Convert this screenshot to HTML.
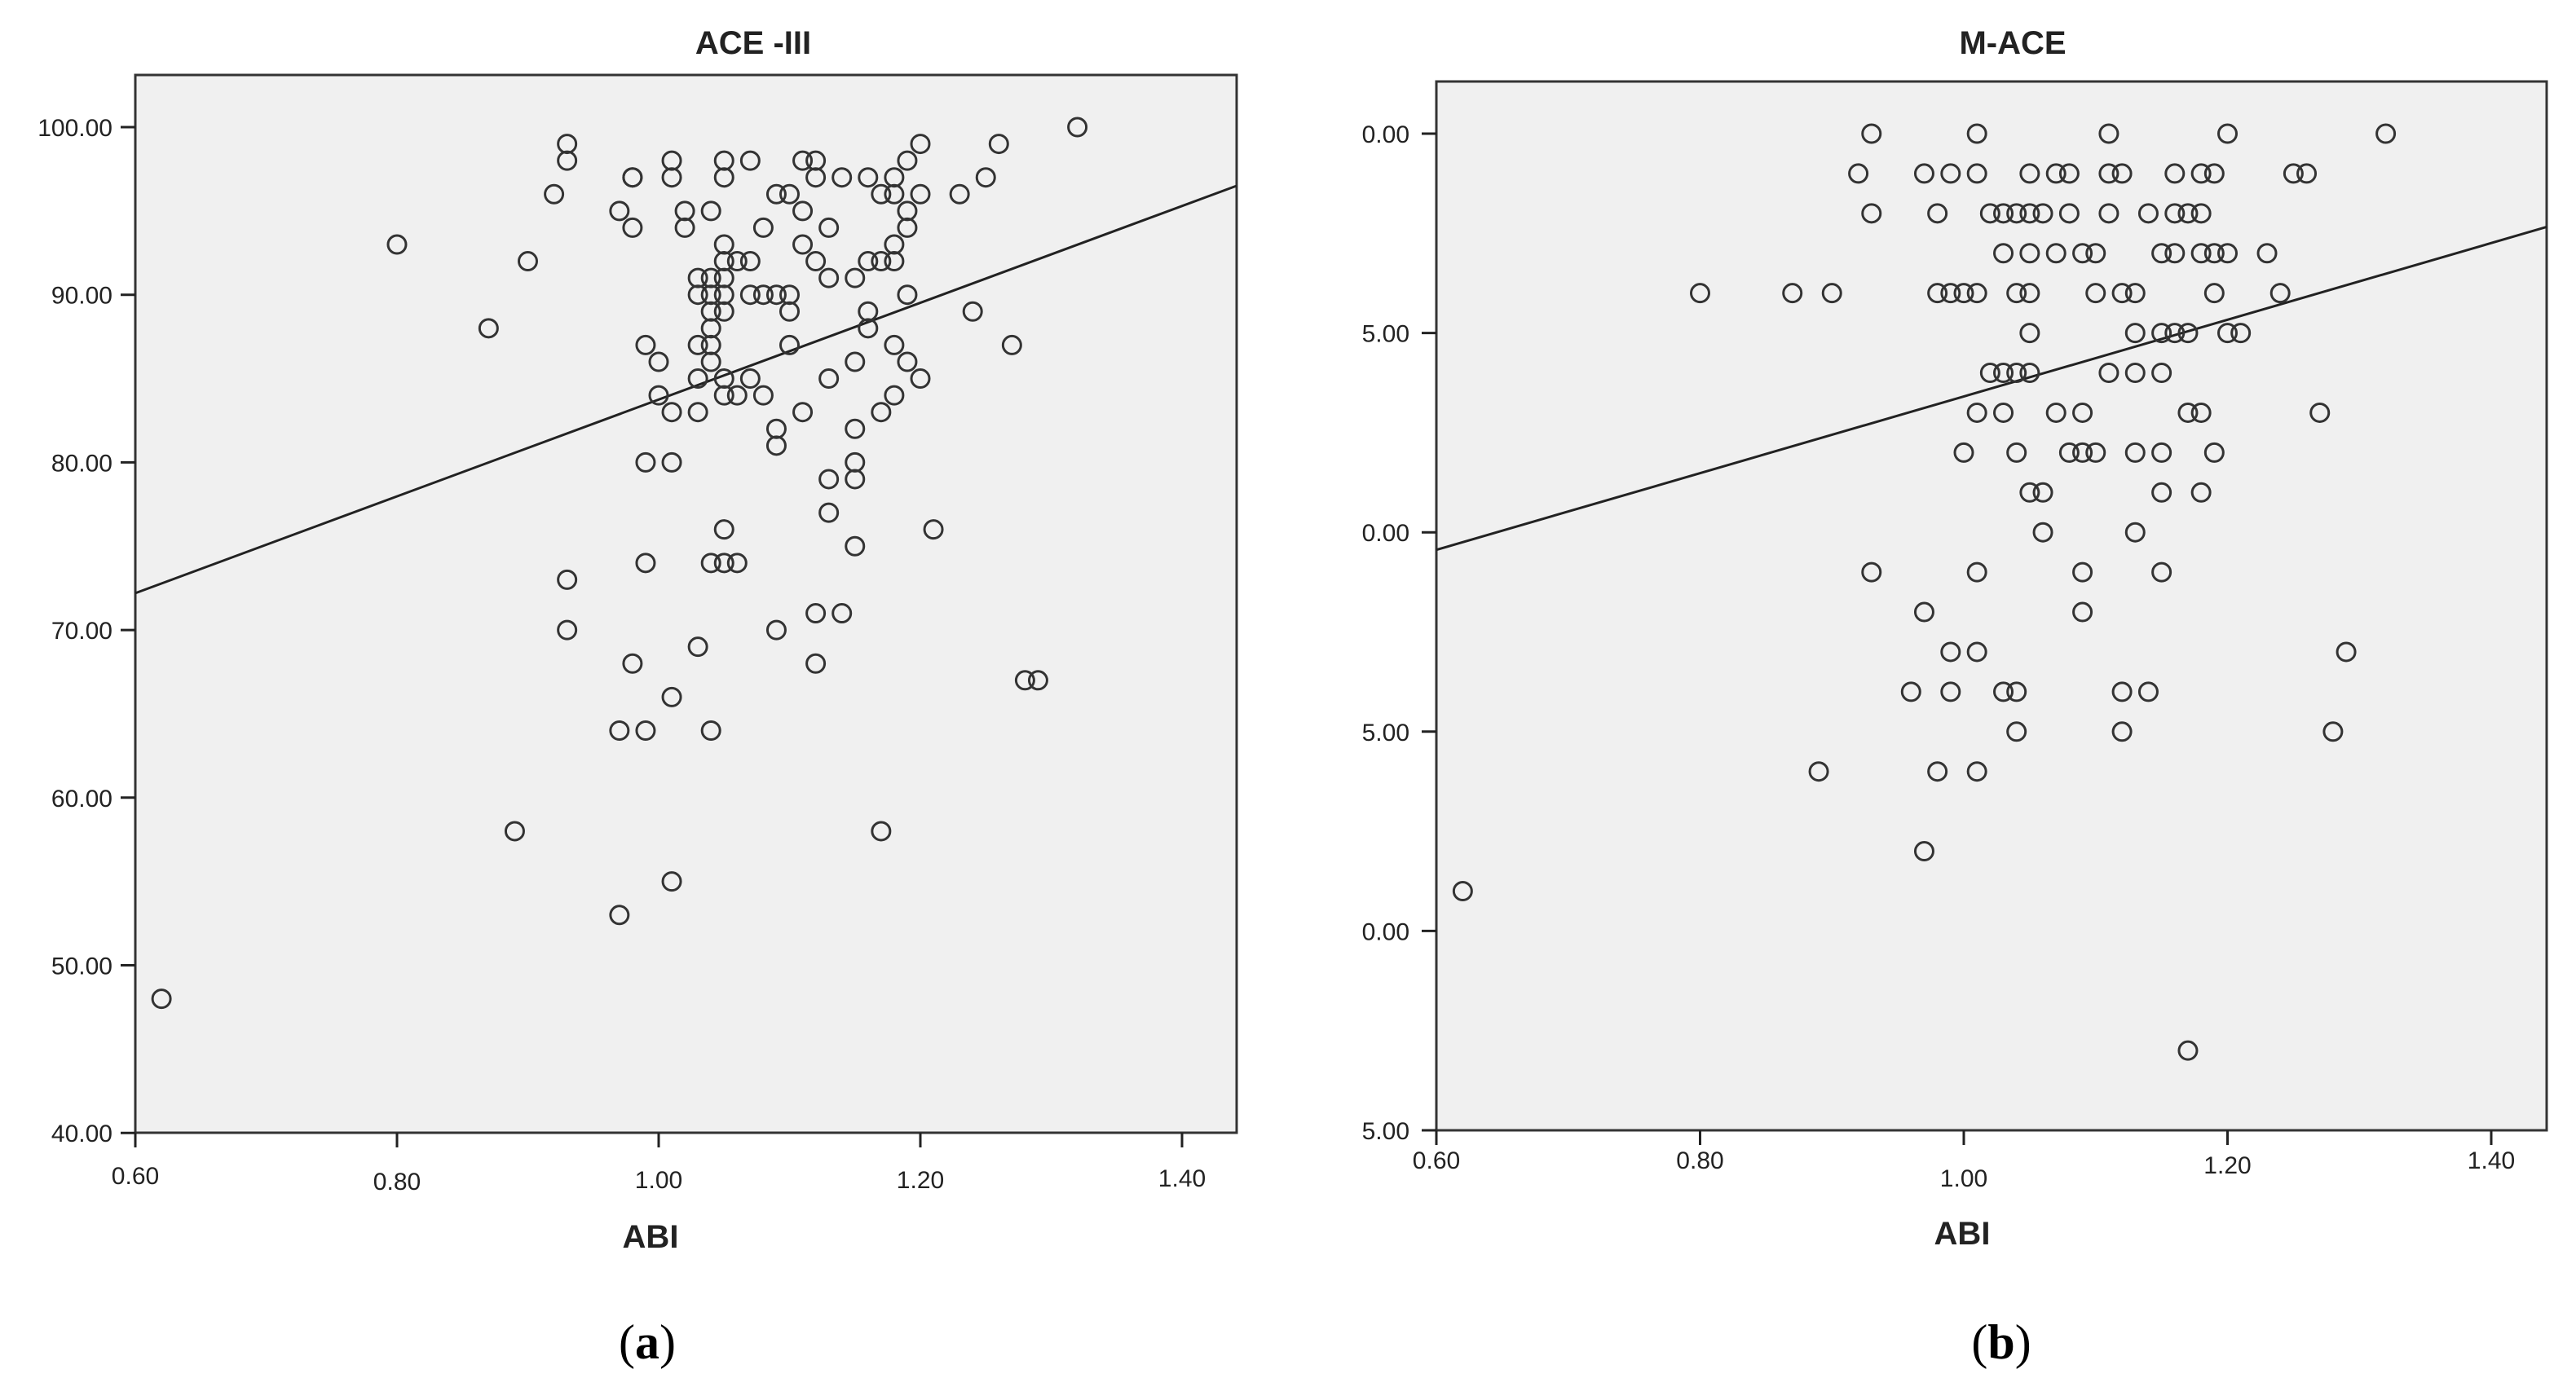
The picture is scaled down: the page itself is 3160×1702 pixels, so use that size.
<!DOCTYPE html>
<html><head><meta charset="utf-8"><style>
html,body{margin:0;padding:0;background:#fff;}
svg{display:block;}
</style></head><body>
<svg id="fig" width="3160" height="1702" viewBox="0 0 3160 1702" xmlns="http://www.w3.org/2000/svg"></svg>
<script>
// ---- Panel (a) data: ACE-III vs ABI ----
const aceX = [0.62,0.80,0.87,0.89,0.90,0.92,0.93,0.93,0.93,0.93,0.97,0.97,0.97,0.98,0.98,0.98,0.98,0.99,0.99,0.99,0.99,1.00,1.00,1.01,1.01,1.01,1.01,1.01,1.01,1.02,1.02,1.03,1.03,1.03,1.03,1.03,1.03,1.04,1.04,1.04,1.04,1.04,1.04,1.04,1.04,1.04,1.05,1.05,1.05,1.05,1.05,1.05,1.05,1.05,1.05,1.05,1.05,1.06,1.06,1.06,1.07,1.07,1.07,1.07,1.08,1.08,1.08,1.09,1.09,1.09,1.09,1.09,1.10,1.10,1.10,1.10,1.11,1.11,1.11,1.11,1.12,1.12,1.12,1.12,1.12,1.13,1.13,1.13,1.13,1.13,1.14,1.14,1.15,1.15,1.15,1.15,1.15,1.15,1.16,1.16,1.16,1.16,1.17,1.17,1.17,1.17,1.18,1.18,1.18,1.18,1.18,1.18,1.19,1.19,1.19,1.19,1.19,1.20,1.20,1.20,1.21,1.23,1.24,1.25,1.26,1.27,1.28,1.29,1.32];
const aceY = [48,93,88,58,92,96,99,98,73,70,95,64,53,97,97,94,68,87,80,74,64,86,84,98,97,83,80,66,55,95,94,91,90,87,85,83,69,95,91,90,89,88,87,86,74,64,98,97,93,92,91,90,89,85,84,76,74,92,84,74,98,92,90,85,94,90,84,96,90,82,81,70,96,90,89,87,98,95,93,83,98,97,92,71,68,94,91,85,79,77,97,71,91,86,82,80,79,75,97,92,89,88,96,92,83,58,97,96,93,92,87,84,98,95,94,90,86,99,96,85,76,96,89,97,99,87,67,67,100];
const aceFit = [72.2, 96.5]; // fitted values at x-axis ends
const aceYTicks = ["40.00","50.00","60.00","70.00","80.00","90.00","100.00"];
const aceYTickVals = [40,50,60,70,80,90,100];

// ---- Panel (b) data: M-ACE vs ABI ----
const maceX = [0.93,1.01,1.11,1.20,1.32,
 0.92,0.97,0.99,1.01,1.05,1.07,1.08,1.11,1.12,1.16,1.18,1.19,1.25,1.26,
 0.93,0.98,1.02,1.03,1.04,1.05,1.06,1.08,1.11,1.14,1.16,1.17,1.18,
 1.03,1.05,1.07,1.09,1.10,1.15,1.16,1.18,1.19,1.20,1.23,
 0.80,0.87,0.90,0.98,0.99,1.00,1.01,1.04,1.05,1.10,1.12,1.13,1.19,1.24,
 1.05,1.13,1.15,1.16,1.17,1.20,1.21,
 1.02,1.03,1.04,1.05,1.11,1.13,1.15,
 1.01,1.03,1.07,1.09,1.17,1.18,1.27,
 1.00,1.04,1.08,1.09,1.10,1.13,1.15,1.19,
 1.05,1.06,1.15,1.18,
 1.06,1.13,
 0.93,1.01,1.09,1.15,
 0.97,1.09,
 0.99,1.01,1.29,
 0.96,0.99,1.03,1.04,1.12,1.14,
 1.04,1.12,1.28,
 0.89,0.98,1.01,
 0.97,0.62,1.17];
const maceY = [30,30,30,30,30,
 29,29,29,29,29,29,29,29,29,29,29,29,29,29,
 28,28,28,28,28,28,28,28,28,28,28,28,28,
 27,27,27,27,27,27,27,27,27,27,27,
 26,26,26,26,26,26,26,26,26,26,26,26,26,26,
 25,25,25,25,25,25,25,
 24,24,24,24,24,24,24,
 23,23,23,23,23,23,23,
 22,22,22,22,22,22,22,22,
 21,21,21,21,
 20,20,
 19,19,19,19,
 18,18,
 17,17,17,
 16,16,16,16,16,16,
 15,15,15,
 14,14,14,
 12,11,7];
const maceFit = [19.56, 27.66];
const maceYTicks = ["5.00","0.00","5.00","0.00","5.00","0.00"];
const maceYTickVals = [5,10,15,20,25,30];

const xTicks = ["0.60","0.80","1.00","1.20","1.40"];
const xTickVals = [0.6,0.8,1.0,1.2,1.4];

const NS = "http://www.w3.org/2000/svg";
const svg = document.getElementById('fig');
function mk(tag, attrs, parent){
  const e = document.createElementNS(NS, tag);
  for (const k in attrs) e.setAttribute(k, attrs[k]);
  (parent||svg).appendChild(e);
  return e;
}

function panel(cfg){
  const g = mk('g', {});
  
  
  const sx = v => cfg.x0px + (v - 0.6) * cfg.pxPerX;
  const sy = v => cfg.yTopValPx + (cfg.yTopVal - v) * cfg.pxPerY;
  const L = cfg.left, R = cfg.right, T = cfg.top, B = cfg.bottom;
  const bg = mk('rect', {x:L, y:T, width:R-L, height:B-T, fill:'#f0f0f0', stroke:'#333', 'stroke-width':3}, g);
  
  
  cfg.yTickVals.forEach((v,i)=>{
    const y = sy(v);
    const t = mk('line', {x1:L-18, x2:L, y1:y, y2:y, stroke:'#222', 'stroke-width':3}, g);
    
    
    const tx = mk('text', {x:L-cfg.yLabGap, y:y+11, 'text-anchor':'end', 'font-size':30, fill:'#222', 'font-family':'Liberation Sans, sans-serif'}, g);
    tx.textContent = cfg.yTicks[i];
    
    
  });
  xTickVals.forEach((v,i)=>{
    const x = sx(v);
    const t = mk('line', {x1:x, x2:x, y1:B, y2:B+18, stroke:'#222', 'stroke-width':3}, g);
    
    
    const tx = mk('text', {x:x, y:B + cfg.xLabOff[i], 'text-anchor':'middle', 'font-size':30, fill:'#222', 'font-family':'Liberation Sans, sans-serif'}, g);
    tx.textContent = xTicks[i];
    
    
  });
  const fl = mk('line', {x1:L, y1:sy(cfg.fit[0]), x2:R, y2:sy(cfg.fit[1]), stroke:'#222', 'stroke-width':3}, g);
  
  
  cfg.xs.forEach((xv,i)=>{
    const c = mk('circle', {cx:sx(xv), cy:sy(cfg.ys[i]), r:11, fill:'none', stroke:'#333', 'stroke-width':3}, g);
    
    
  });
  const ti = mk('text', {x:cfg.titleX, y:66, 'text-anchor':'middle', 'font-size':40, 'font-weight':'bold', fill:'#222', 'font-family':'Liberation Sans, sans-serif'}, g);
  ti.textContent = cfg.title;
  
  
  const xl = mk('text', {x:cfg.xLabelX, y:cfg.xLabelY, 'text-anchor':'middle', 'font-size':40, 'font-weight':'bold', fill:'#222', 'font-family':'Liberation Sans, sans-serif'}, g);
  xl.textContent = 'ABI';
  
  
  const cap = mk('text', {x:cfg.capX, y:1667, 'text-anchor':'middle', 'font-size':60, fill:'#000', 'font-family':'Liberation Serif, serif'}, g);
  cap.innerHTML = '(<tspan font-weight="bold">' + cfg.cap + '</tspan>)';
  
  
}

panel({name:'ace-iii-panel', title:'ACE -III', cap:'a', xs:aceX, ys:aceY, fit:aceFit,
  yTicks:aceYTicks, yTickVals:aceYTickVals,
  left:166, right:1517, top:92, bottom:1390,
  x0px:166, pxPerX:1605, yTopVal:100, yTopValPx:156, pxPerY:20.57,
  xLabOff:[63,70,68,68,66], yLabGap:28, titleX:924, xLabelX:798, xLabelY:1531, capX:794});
panel({name:'m-ace-panel', title:'M-ACE', cap:'b', xs:maceX, ys:maceY, fit:maceFit,
  yTicks:maceYTicks, yTickVals:maceYTickVals,
  left:1762, right:3124, top:100, bottom:1387,
  x0px:1762, pxPerX:1617.5, yTopVal:30, yTopValPx:164, pxPerY:48.92,
  xLabOff:[47,47,69,53,47], yLabGap:33, titleX:2469, xLabelX:2407, xLabelY:1527, capX:2455});
</script>
</body></html>
